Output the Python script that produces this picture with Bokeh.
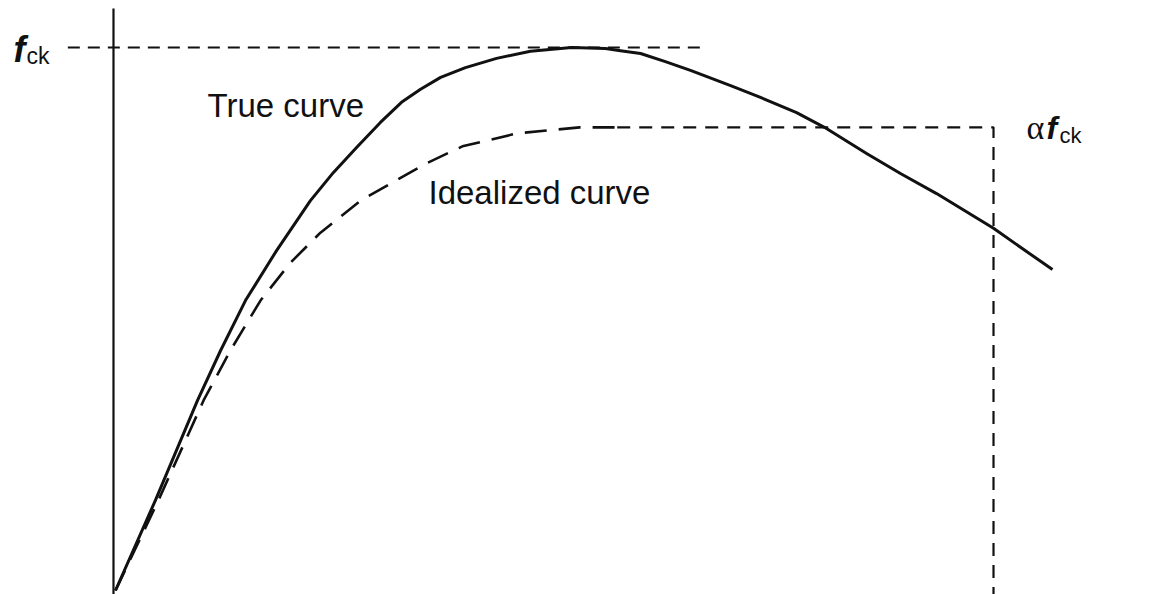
from bokeh.plotting import figure
from bokeh.models import Range1d
from bokeh.embed import file_html
from bokeh.resources import INLINE
from bokeh.core.properties import value

# strain (per mille) and stress (fraction of f_ck)
true_strain = [0.0, 0.159, 0.327, 0.419, 0.518, 0.642, 0.777, 0.869, 0.961, 1.056, 1.140,
               1.216, 1.296, 1.395, 1.519, 1.654, 1.818, 1.953, 2.013, 2.093, 2.192, 2.292,
               2.452, 2.571, 2.715, 2.826, 2.994, 3.129, 3.273, 3.500, 3.735]
true_stress = [0.0, 0.166, 0.350, 0.442, 0.534, 0.626, 0.718, 0.770, 0.816, 0.862, 0.899,
               0.923, 0.945, 0.963, 0.980, 0.993, 1.000, 0.998, 0.994, 0.989, 0.974, 0.958,
               0.930, 0.908, 0.880, 0.853, 0.805, 0.768, 0.731, 0.667, 0.591]

ideal_strain = [0.0, 0.171, 0.351, 0.458, 0.578, 0.698, 0.817, 0.977, 1.236, 1.383, 1.602,
                1.850, 2.0]
ideal_stress = [0.0, 0.166, 0.350, 0.442, 0.534, 0.604, 0.659, 0.718, 0.786, 0.818, 0.842,
                0.853, 0.853]

alpha = 0.853
eps_c2 = 2.0
eps_cu = 3.5
fck = 1.0
fck_line_x = [-0.19, 2.35]

W, H = 1157, 594
p = figure(width=W, height=H, output_backend="svg", toolbar_location=None,
           x_range=Range1d(-0.4584, 4.1537), y_range=Range1d(-0.00737, 1.0866),
           x_axis_type=None, y_axis_type=None, min_border=0,
           outline_line_color=None, background_fill_color="white",
           border_fill_color="white")
p.grid.visible = False

ink = "#111111"

# vertical axis
p.line([-0.008, -0.008], [-0.01, 1.072], line_color=ink, line_width=2.2)

# f_ck reference line
p.line(fck_line_x, [fck, fck], line_color=ink, line_width=2, line_dash="12 8")

# idealized curve
p.line(ideal_strain, ideal_stress, line_color=ink, line_width=2.6, line_dash="22 12",
       line_join="round")

# plateau alpha*f_ck and ultimate strain line
p.line([eps_c2, eps_cu, eps_cu], [alpha, alpha, -0.01], line_color=ink, line_width=2.2,
       line_dash="13 9")

# true curve
p.line(true_strain, true_stress, line_color=ink, line_width=3, line_join="round")


def px_to_x(px):
    return (px - 115) / 250.86


def px_to_y(py):
    return (590 - py) / 543.0


font = value("Liberation Sans")

p.text(x=[px_to_x(207)], y=[px_to_y(105)], text=["True curve"], text_font=font,
       text_font_size="33px", text_color=ink, text_baseline="alphabetic")
p.text(x=[px_to_x(428)], y=[px_to_y(192)], text=["Idealized curve"], text_font=font,
       text_font_size="33px", text_color=ink, text_baseline="alphabetic")

# f_ck label on the left
p.text(x=[px_to_x(13)], y=[px_to_y(49)], text=["f"], text_font=font,
       text_font_size="36px", text_font_style="bold italic", text_color=ink,
       text_baseline="alphabetic")
p.text(x=[px_to_x(26)], y=[px_to_y(55)], text=["ck"], text_font=font,
       text_font_size="23px", text_color=ink, text_baseline="alphabetic")

# alpha f_ck label on the right
p.text(x=[px_to_x(1026)], y=[px_to_y(127)], text=["α"], text_font=value("Liberation Serif"),
       text_font_size="34px", text_color=ink, text_baseline="alphabetic")
p.text(x=[px_to_x(1046)], y=[px_to_y(127)], text=["f"], text_font=font,
       text_font_size="32px", text_font_style="bold italic", text_color=ink,
       text_baseline="alphabetic")
p.text(x=[px_to_x(1059)], y=[px_to_y(135)], text=["ck"], text_font=font,
       text_font_size="22px", text_color=ink, text_baseline="alphabetic")

open("out.html", "w").write(file_html(p, INLINE))
